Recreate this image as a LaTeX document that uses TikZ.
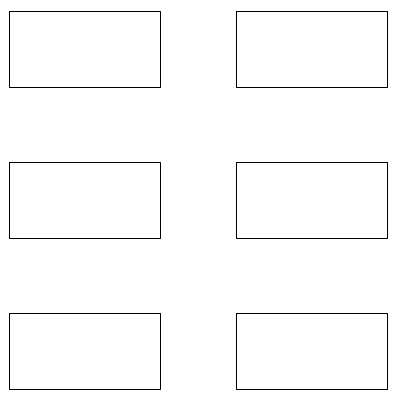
\documentclass[tikz,border=0pt]{standalone}
\usepackage{tikz}
\usetikzlibrary{positioning}
\tikzset{
  every picture/.style={line join=round, line cap=round},
  panel/.style={draw, line width=0.8pt, minimum width=113.25pt, minimum height=57pt, inner sep=0pt, anchor=north west},
}

\begin{document}
\begin{tikzpicture}[x=0.75pt,y=-0.75pt]
\useasboundingbox (0,0) rectangle (399,396);
\node[panel] (p11) at (8.5,10.5) {};
\node[panel] (p12) at (235.5,10.5) {};
\node[panel] (p21) at (8.5,161.5) {};
\node[panel] (p22) at (235.5,161.5) {};
\node[panel] (p31) at (8.5,312.5) {};
\node[panel] (p32) at (235.5,312.5) {};
\end{tikzpicture}
\end{document}
